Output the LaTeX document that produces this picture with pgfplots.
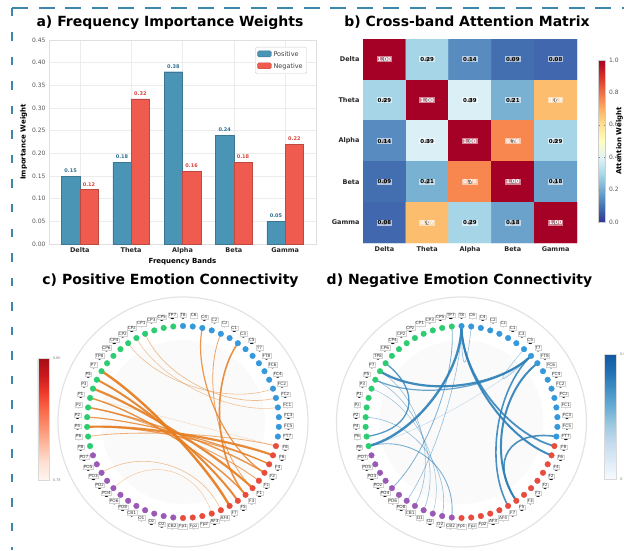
\documentclass[border=0pt]{standalone}
\usepackage{pgfplots}
\pgfplotsset{compat=1.18}
\usepackage{pgfplotstable}
\usepackage{fontspec}
\setmainfont{DejaVu Sans}
\setsansfont{DejaVu Sans}
\definecolor{posc}{HTML}{4A94B6}
\definecolor{negc}{HTML}{EF5B4F}
\definecolor{posl}{HTML}{2F6F90}
\definecolor{negl}{HTML}{D8443A}
\definecolor{dashc}{HTML}{3F86AB}
\definecolor{tickc}{HTML}{555555}
\definecolor{nblue}{HTML}{3498DB}
\definecolor{nred}{HTML}{E74C3C}
\definecolor{npurple}{HTML}{9B59B6}
\definecolor{ngreen}{HTML}{2ECC71}
\definecolor{edgec}{HTML}{E67E22}
\definecolor{edged}{HTML}{2C7FB8}
\pgfplotsset{/pgf/number format/assume math mode=true,
  colormap={rdylbu}{rgb255=(49,54,149) rgb255=(69,117,180) rgb255=(116,173,209) rgb255=(171,217,233) rgb255=(224,243,248) rgb255=(255,255,191) rgb255=(254,224,144) rgb255=(253,174,97) rgb255=(244,109,67) rgb255=(215,48,39) rgb255=(165,0,38)},
  colormap={reds}{rgb255=(255,245,240) rgb255=(254,224,210) rgb255=(252,187,161) rgb255=(252,146,114) rgb255=(251,106,74) rgb255=(239,59,44) rgb255=(203,24,29) rgb255=(165,15,21)},
  colormap={blues}{rgb255=(247,251,255) rgb255=(222,235,247) rgb255=(198,219,239) rgb255=(158,202,225) rgb255=(107,174,214) rgb255=(66,146,198) rgb255=(33,113,181) rgb255=(18,88,160)},
}
% channel angles (degrees) on the connectivity circle
\pgfplotstableread{
a l
90 T8
84.194 C6
78.387 C4
72.581 C2
66.774 Cz
60.968 C1
55.161 C3
49.355 C5
43.548 T7
37.742 FT8
31.935 FC6
26.129 FC4
20.323 FC2
14.516 FCz
8.710 FC1
2.903 FC3
-2.903 FC5
-8.710 FT7
}\chBlue
\pgfplotstableread{
a l
-14.516 F8
-20.323 F6
-26.129 F4
-31.935 F2
-37.742 Fz
-43.548 F1
-49.355 F3
-55.161 F5
-60.968 F7
-66.774 AF4
-72.581 AF3
-78.387 Fp2
-84.194 Fpz
-90 Fp1
}\chRed
\pgfplotstableread{
a l
-95.806 CB2
-101.613 O2
-107.419 Oz
-113.226 O1
-119.032 CB1
-124.839 PO8
-130.645 PO6
-136.452 PO4
-142.258 POz
-148.065 PO3
-153.871 PO5
-159.677 PO7
}\chPurple
\pgfplotstableread{
a l
-165.484 P8
-171.290 P6
-177.097 P4
-182.903 P2
-188.710 Pz
-194.516 P1
-200.323 P3
-206.129 P5
-211.935 P7
-217.742 TP8
-223.548 CP6
-229.355 CP4
-235.161 CP2
-240.968 CPz
-246.774 CP1
-252.581 CP3
-258.387 CP5
-264.194 TP7
}\chGreen
% edge between channel #1 and #2, width #3, opacity #4, colour #5
\newcommand{\edg}[5]{\draw[#5, line width=#3pt, draw opacity=#4, line cap=round]
 (axis cs:{cos(90-#1*5.806452)},{sin(90-#1*5.806452)}) .. controls
 (axis cs:{0.5*cos(90-#1*5.806452)},{0.5*sin(90-#1*5.806452)}) and
 (axis cs:{0.5*cos(90-#2*5.806452)},{0.5*sin(90-#2*5.806452)}) ..
 (axis cs:{cos(90-#2*5.806452)},{sin(90-#2*5.806452)});}
\pgfplotsset{
 chdots/.style={only marks, mark=*, mark size=2.8pt, data cs=polar},
 chlabels/.style={only marks, mark=*, mark options={draw=none,fill=none}, data cs=polar,
   point meta=explicit symbolic, nodes near coords,
   every node near coord/.append style={anchor=base, fill=white, draw=gray!35, line width=0.2pt,
     inner sep=0.6pt, text=black!80, font=\fontsize{4.3}{4.3}\selectfont}},
 circax/.style={anchor=center, scale only axis, width=268.8pt, height=268.8pt,
   xmin=-1.4, xmax=1.4, ymin=-1.4, ymax=1.4, hide axis, clip=false},
 nf2/.style={/pgf/number format/fixed, /pgf/number format/fixed zerofill, /pgf/number format/precision=2},
 nf1/.style={/pgf/number format/fixed, /pgf/number format/fixed zerofill, /pgf/number format/precision=1},
}
\newcommand{\channels}{%
 \addplot[chdots, nblue] table[x=a, y expr=1] {\chBlue};
 \addplot[chdots, nred] table[x=a, y expr=1] {\chRed};
 \addplot[chdots, npurple] table[x=a, y expr=1] {\chPurple};
 \addplot[chdots, ngreen] table[x=a, y expr=1] {\chGreen};
 \addplot[chlabels] table[x=a, y expr=1.1, meta=l] {\chBlue};
 \addplot[chlabels] table[x=a, y expr=1.1, meta=l] {\chRed};
 \addplot[chlabels] table[x=a, y expr=1.1, meta=l] {\chPurple};
 \addplot[chlabels] table[x=a, y expr=1.1, meta=l] {\chGreen};
}
\begin{document}
\begin{tikzpicture}[x=1pt,y=1pt]
\path[use as bounding box] (0,0) rectangle (624,550);
\draw[dashc, line width=1.6pt, dash pattern=on 16pt off 10.5pt] (12,542) -- (624,542);
\draw[dashc, line width=1.6pt, dash pattern=on 8.5pt off 16pt] (12,542) -- (12,0);
% titles
\node[font=\bfseries\fontsize{14}{15}\selectfont] at (170,527.5) {a) Frequency Importance Weights};
\node[font=\bfseries\fontsize{14}{15}\selectfont] at (467,527.5) {b) Cross-band Attention Matrix};
\node[font=\bfseries\fontsize{14}{15}\selectfont] at (170.5,269.5) {c) Positive Emotion Connectivity};
\node[font=\bfseries\fontsize{14}{15}\selectfont] at (459.5,269.5) {d) Negative Emotion Connectivity};

% ---------- a) bars
\begin{axis}[at={(49pt,306pt)}, anchor=south west, scale only axis, width=267pt, height=204pt,
 ybar=0pt, bar width=0.357,
 xmin=-0.6, xmax=4.6, ymin=0, ymax=0.45,
 xtick={0,1,2,3,4}, xticklabels={Delta,Theta,Alpha,Beta,Gamma},
 ytick={0,0.05,0.1,0.15,0.2,0.25,0.3,0.35,0.4,0.45},
 yticklabel style={font=\fontsize{6}{7}\selectfont, text=tickc, nf2},
 xticklabel style={font=\bfseries\fontsize{6.5}{7}\selectfont, text=black!85},
 grid=major, major grid style={gray!15, line width=0.4pt}, major tick length=0pt,
 axis line style={gray!25},
 ylabel={Importance Weight}, xlabel={Frequency Bands},
 label style={font=\bfseries\fontsize{7}{8}\selectfont},
 xlabel style={yshift=3pt}, ylabel style={yshift=-2pt},
 legend style={at={(0.966,0.966)}, anchor=north east, font=\fontsize{6.5}{7}\selectfont,
   draw=gray!40, rounded corners=1.5pt, inner sep=2pt, row sep=1.5pt, text=black!75},
 legend cell align=left,
 legend image code/.code={\draw[#1] (0pt,-2.5pt) rectangle (14pt,3.5pt);},
 nodes near coords={\pgfmathprintnumber[fixed,fixed zerofill,precision=2]{\pgfplotspointmeta}},
]
\addplot[fill=posc, draw=posc!80!black, line width=0.3pt,
  every node near coord/.append style={font=\bfseries\fontsize{5}{5}\selectfont, text=posl}]
  coordinates {(0,0.15) (1,0.18) (2,0.38) (3,0.24) (4,0.05)};
\addplot[fill=negc, draw=negc!80!black, line width=0.3pt,
  every node near coord/.append style={font=\bfseries\fontsize{5}{5}\selectfont, text=negl}]
  coordinates {(0,0.12) (1,0.32) (2,0.16) (3,0.18) (4,0.22)};
\legend{Positive,Negative}
\end{axis}

% ---------- b) heatmap
\begin{axis}[at={(363pt,307pt)}, anchor=south west, scale only axis, width=214pt, height=204pt,
 xmin=-0.5, xmax=4.5, ymin=-0.5, ymax=4.5, y dir=reverse,
 xtick={0,1,2,3,4}, ytick={0,1,2,3,4},
 xticklabels={Delta,Theta,Alpha,Beta,Gamma}, yticklabels={Delta,Theta,Alpha,Beta,Gamma},
 ticklabel style={font=\bfseries\fontsize{6.5}{7}\selectfont, text=black!85},
 major tick length=0pt, axis line style={draw=none},
 colormap name=rdylbu, point meta min=0, point meta max=1,
 colorbar,
 colorbar style={at={(parent axis.east)}, anchor=west, xshift=13pt, scale only axis,
   width=7pt, height=162pt, ytick={0,0.2,0.4,0.6,0.8,1},
   yticklabel style={font=\fontsize{6}{7}\selectfont, text=tickc, nf1},
   major tick length=1.5pt, tick style={gray}, axis line style={draw=gray!40},
   ylabel={Attention Weight},
   ylabel style={font=\bfseries\fontsize{7}{8}\selectfont, at={(axis description cs:3.0,0.5)}, anchor=center, rotate=0},
   yticklabel pos=right},
]
\addplot[matrix plot*, mesh/cols=5, point meta=explicit] table[meta=c] {
x y c
0 0 1.00
1 0 0.29
2 0 0.14
3 0 0.09
4 0 0.08
0 1 0.29
1 1 1.00
2 1 0.39
3 1 0.21
4 1 0.67
0 2 0.14
1 2 0.39
2 2 1.00
3 2 0.76
4 2 0.29
0 3 0.09
1 3 0.21
2 3 0.76
3 3 1.00
4 3 0.18
0 4 0.08
1 4 0.67
2 4 0.29
3 4 0.18
4 4 1.00
};
\addplot[only marks, mark=*, mark options={draw=none,fill=none}, point meta=explicit,
 nodes near coords={\pgfmathprintnumber[fixed,fixed zerofill,precision=2]{\pgfplotspointmeta}},
 every node near coord/.append style={anchor=center, fill=white, fill opacity=0.6, text opacity=1,
   text=black, inner sep=1pt, font=\bfseries\fontsize{5.5}{6}\selectfont}] table[meta=c] {
x y c
1 0 0.29
2 0 0.14
3 0 0.09
4 0 0.08
0 1 0.29
2 1 0.39
3 1 0.21
0 2 0.14
1 2 0.39
4 2 0.29
0 3 0.09
1 3 0.21
4 3 0.18
0 4 0.08
2 4 0.29
3 4 0.18
};
\addplot[only marks, mark=*, mark options={draw=none,fill=none}, point meta=explicit,
 nodes near coords={\pgfmathprintnumber[fixed,fixed zerofill,precision=2]{\pgfplotspointmeta}},
 every node near coord/.append style={anchor=center, fill=white, fill opacity=0.5, text opacity=1,
   text=white, inner sep=1pt, font=\bfseries\fontsize{5.5}{6}\selectfont}] table[meta=c] {
x y c
0 0 1.00
1 1 1.00
2 2 1.00
3 3 1.00
4 4 1.00
4 1 0.67
1 4 0.67
3 2 0.76
2 3 0.76
};
\end{axis}

% ---------- c) positive connectivity
\begin{axis}[circax, at={(183pt,128pt)},
 colormap name=reds, point meta min=0.78, point meta max=0.80, colorbar,
 colorbar style={at={(parent axis.center)}, anchor=center, xshift=-148pt, yshift=3pt, scale only axis,
   width=11.4pt, height=122pt, ytick={0.78,0.80}, yticklabel pos=right,
   yticklabel style={font=\fontsize{3.5}{4}\selectfont, text=gray, nf2},
   major tick length=1.5pt, tick style={gray}, axis line style={draw=gray!30}},
]
\draw[gray!22, line width=1.2pt] (axis cs:0,0) circle [radius=125pt];
\fill[gray!4] (axis cs:0,0) circle [radius=82pt];
\edg{52}{26}{2.4}{0.95}{edgec}
\edg{51}{25}{2.0}{0.9}{edgec}
\edg{50}{23}{2.2}{0.9}{edgec}
\edg{49}{24}{1.4}{0.85}{edgec}
\edg{48}{21}{1.4}{0.8}{edgec}
\edg{47}{20}{1.2}{0.8}{edgec}
\edg{46}{19}{2.2}{0.9}{edgec}
\edg{46}{20}{1.1}{0.75}{edgec}
\edg{45}{18}{0.8}{0.6}{edgec}
\edg{48}{22}{0.9}{0.7}{edgec}
\edg{49}{18}{0.4}{0.3}{edgec}
\edg{56}{12}{0.6}{0.5}{edgec}
\edg{58}{13}{0.7}{0.5}{edgec}
\edg{57}{14}{0.6}{0.45}{edgec}
\edg{2}{21}{1.2}{0.8}{edgec}
\edg{4}{23}{0.8}{0.7}{edgec}
\edg{6}{24}{1.6}{0.85}{edgec}
\edg{41}{27}{0.6}{0.5}{edgec}
\edg{39}{28}{0.5}{0.4}{edgec}
\channels
\end{axis}

% ---------- d) negative connectivity
\begin{axis}[circax, at={(461.5pt,128pt)},
 colormap name=blues, point meta min=0.70, point meta max=0.85, colorbar,
 colorbar style={at={(parent axis.center)}, anchor=center, xshift=140.5pt, yshift=5.5pt, scale only axis,
   width=12pt, height=125pt, ytick={0.70,0.85}, yticklabel pos=right,
   yticklabel style={font=\fontsize{3.5}{4}\selectfont, text=gray, nf2},
   major tick length=1.5pt, tick style={gray}, axis line style={draw=gray!30}},
]
\draw[gray!22, line width=1.2pt] (axis cs:0,0) circle [radius=125pt];
\fill[gray!4] (axis cs:0,0) circle [radius=82pt];
\edg{0}{44}{2.4}{0.9}{edged}
\edg{0}{19}{2.0}{0.9}{edged}
\edg{0}{18}{1.8}{0.85}{edged}
\edg{8}{52}{2.2}{0.9}{edged}
\edg{8}{51}{1.2}{0.7}{edged}
\edg{8}{26}{1.6}{0.85}{edged}
\edg{9}{25}{2.0}{0.9}{edged}
\edg{17}{25}{1.6}{0.85}{edged}
\edg{53}{45}{1.3}{0.8}{edged}
\edg{0}{1}{0.6}{0.5}{edged}
\edg{7}{8}{0.5}{0.45}{edged}
\edg{8}{44}{0.4}{0.3}{edged}
\edg{61}{39}{0.8}{0.6}{edged}
\edg{0}{37}{0.6}{0.5}{edged}
\edg{52}{36}{0.6}{0.5}{edged}
\edg{51}{35}{0.6}{0.5}{edged}
\edg{50}{34}{0.5}{0.45}{edged}
\edg{47}{33}{0.6}{0.5}{edged}
\edg{44}{32}{0.9}{0.6}{edged}
\channels
\end{axis}
\end{tikzpicture}
\end{document}
